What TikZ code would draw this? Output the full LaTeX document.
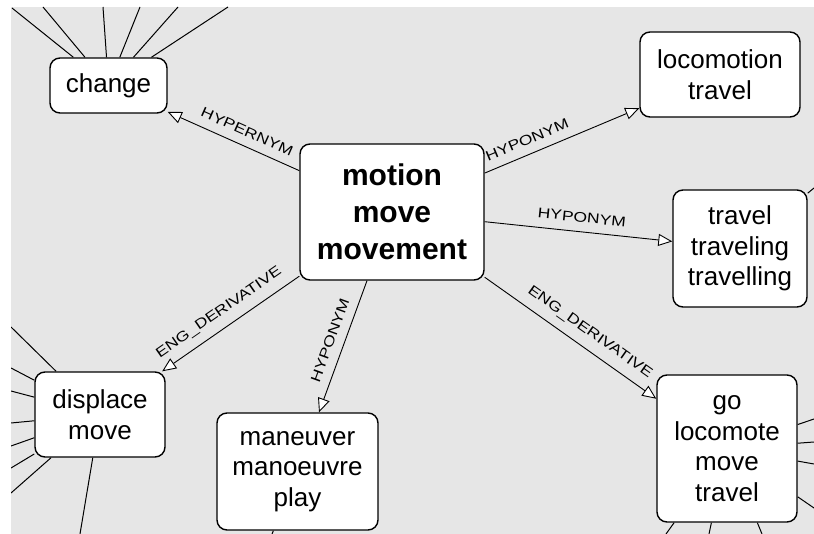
\documentclass[tikz,border=0pt]{standalone}
\usepackage{fontspec}
\setmainfont{Liberation Sans}
\newfontfamily\edgefont{Liberation Sans}[FakeStretch=1.25]
\usetikzlibrary{arrows.meta}

\definecolor{canvasgray}{RGB}{230,230,230}

\begin{document}
\begin{tikzpicture}[
    x=1pt, y=-1pt,
    %% ── Box styles ──────────────────────────────────────────────────────
    wordnode/.style={
        draw, line width=1.4pt, fill=white,
        rounded corners=10pt,
        inner sep=0pt,
        align=center,
        font=\fontsize{26}{30.5}\selectfont,
    },
    focusnode/.style={
        wordnode,
        font=\bfseries\fontsize{30}{37}\selectfont,
    },
    %% ── Arrow styles ────────────────────────────────────────────────────
    %% Relation: open triangle at the target word
    rel/.style={
        -{Triangle[fill=white, length=14pt, width=12pt]},
        line width=0.9pt,
    },
    %% Link to a word outside the view
    stub/.style={line width=1pt},
    lbl/.style={font=\edgefont\fontsize{14}{15}\selectfont, sloped, above=8pt, inner sep=1pt},
]

%% canvas
\fill[white] (0,0) rectangle (814,534);
\fill[canvasgray] (11,7) rectangle (814,534);
\useasboundingbox (0,0) rectangle (814,534);
\clip (11,7) rectangle (814,534);

%%─────────────────────────────────────────────────────────────────────────
%% Words
%%─────────────────────────────────────────────────────────────────────────
\node[focusnode, minimum width=184pt, minimum height=136pt] (motion) at (392,212)
    {motion\\move\\movement};

\node[wordnode, minimum width=117pt, minimum height=55pt] (change) at (108.5,85.5)
    {change};

\node[wordnode, minimum width=160pt, minimum height=85pt] (locomotion) at (720,74.5)
    {locomotion\\travel};

\node[wordnode, minimum width=134pt, minimum height=117pt] (travel) at (740,248.5)
    {travel\\traveling\\travelling};

\node[wordnode, minimum width=130pt, minimum height=85pt] (displace) at (100,414.5)
    {displace\\move};

\node[wordnode, minimum width=161pt, minimum height=117pt] (maneuver) at (297.5,471.5)
    {maneuver\\manoeuvre\\play};

\node[wordnode, minimum width=140pt, minimum height=147pt] (go) at (727,448.5)
    {go\\locomote\\move\\travel};

%%─────────────────────────────────────────────────────────────────────────
%% Links to words outside the view
%%─────────────────────────────────────────────────────────────────────────
\foreach \x/\y [count=\i] in {12/8, 43/7, 103/7, 140/7, 178/7, 228/7} {
    \coordinate (change-out\i) at (\x,\y);
    \draw[stub] (change) -- (change-out\i);
}
\foreach \x/\y [count=\i] in {11/327, 11/368, 11/391, 11/423, 11/446, 11/468, 11/493, 80/534} {
    \coordinate (displace-out\i) at (\x,\y);
    \draw[stub] (displace) -- (displace-out\i);
}
\foreach \x/\y [count=\i] in {814/419, 814/442, 814/464, 814/508, 666/534, 709/534, 762/534} {
    \coordinate (go-out\i) at (\x,\y);
    \draw[stub] (go) -- (go-out\i);
}
\coordinate (travel-out1) at (814,188);
\draw[stub] (travel) -- (travel-out1);
\coordinate (maneuver-out1) at (272,534);
\draw[stub] (maneuver) -- (maneuver-out1);

%%─────────────────────────────────────────────────────────────────────────
%% Relations
%%─────────────────────────────────────────────────────────────────────────
\draw[rel] (motion) -- (change)
    node[lbl, pos=0.44] {HYPERNYM};

\draw[rel] (motion) -- (locomotion)
    node[lbl, pos=0.31] {HYPONYM};

\draw[rel] (motion) -- (travel)
    node[lbl, pos=0.51] {HYPONYM};

\draw[rel] (motion) -- (go)
    node[lbl, pos=0.56] {ENG\_DERIVATIVE};

\draw[rel] (motion) -- (displace)
    node[lbl, pos=0.52] {ENG\_DERIVATIVE};

\draw[rel] (motion) -- (maneuver)
    node[lbl, pos=0.49] {HYPONYM};

\end{tikzpicture}
\end{document}
